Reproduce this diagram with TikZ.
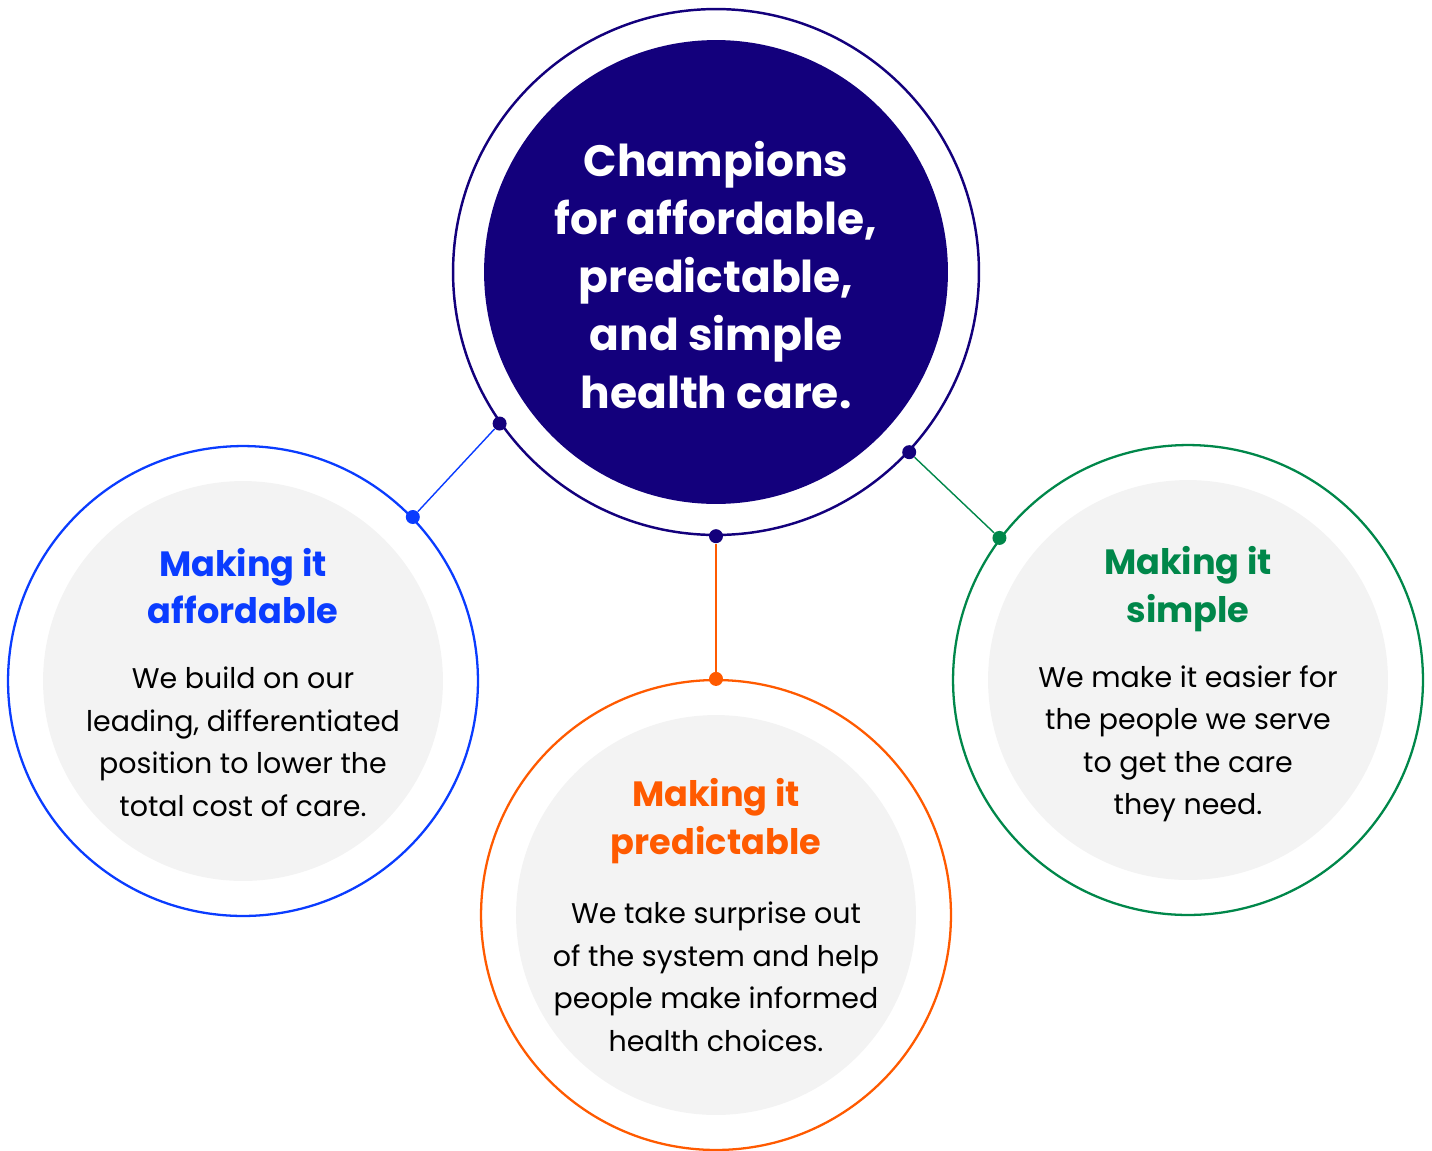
\documentclass[tikz,border=0pt]{standalone}
\usepackage{fontspec}
\setmainfont{Poppins}
\usetikzlibrary{positioning}
\definecolor{navy}{HTML}{13007C}
\definecolor{bluecol}{HTML}{0A3CFF}
\definecolor{orangecol}{HTML}{FF5A00}
\definecolor{greencol}{HTML}{00874A}
\definecolor{softgray}{HTML}{F3F3F3}

\begin{document}
\begin{tikzpicture}[x=0.02cm, y=-0.02cm,
    ring/.style={circle, draw, line width=1.3pt, minimum size=9.4cm, inner sep=0pt},
    disc/.style={circle, fill=softgray, minimum size=8cm, inner sep=0pt},
    dot/.style={circle, fill, inner sep=0pt, minimum size=0.28cm},
    link/.style={line width=0.8pt},
    head/.style={align=center, font=\bfseries\fontsize{20}{27.2}\selectfont},
    body/.style={align=center, text=black, font=\fontsize{16.2}{24.2}\selectfont}]
    \useasboundingbox (0,0) rectangle (1432,1150);

    \node (hub) [circle, draw=navy, line width=1.4pt, minimum size=10.52cm] at (716,272) {};
    \node (hubfill) [circle, fill=navy, minimum size=9.28cm] at (716,272) {};
    \node (champ) [align=center, text=white, font=\bfseries\fontsize{25}{32.9}\selectfont] at (716,275)
        {Champions\\for affordable,\\predictable,\\and simple\\health care.};

    \node (aff) [ring, draw=bluecol] at (243,681) {};
    \node (affdisc) [disc] at (243,681) {};
    \node (pred) [ring, draw=orangecol] at (716,915) {};
    \node (preddisc) [disc] at (716,915) {};
    \node (simp) [ring, draw=greencol] at (1188,680) {};
    \node (simpdisc) [disc] at (1188,680) {};

    \path (aff.center) ++(0,-95) node (affT) [head, text=bluecol] {Making it\\affordable};
    \path (aff.center) ++(0,61) node (affB) [body]
        {We build on our\\leading, differentiated\\position to lower the\\total cost of care.};
    \path (pred.center) ++(0,-94) node (predT) [head, text=orangecol] {Making it\\predictable};
    \path (pred.center) ++(0,62) node (predB) [body]
        {We take surprise out\\of the system and help\\people make informed\\health choices.};
    \path (simp.center) ++(0,-91) node (simpT) [head, text=greencol] {Making it\\simple};
    \path (simp.center) ++(0,64) node (simpB) [body]
        {We make it easier for\\the people we serve\\to get the care\\they need.};

    \node (d1) [dot, navy] at (hub.215.7) {};
    \node (d2) [dot, navy] at (hub.270) {};
    \node (d3) [dot, navy] at (hub.-43.8) {};
    \node (e1) [dot, bluecol] at (aff.44.6) {};
    \node (e2) [dot, orangecol] at (pred.90) {};
    \node (e3) [dot, greencol] at (simp.143.8) {};

    \draw [link, bluecol] (d1) -- (e1);
    \draw [link, orangecol] (d2) -- (e2);
    \draw [link, greencol] (d3) -- (e3);
\end{tikzpicture}
\end{document}
